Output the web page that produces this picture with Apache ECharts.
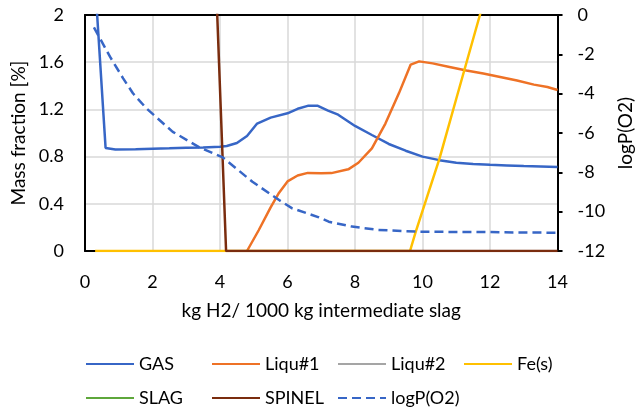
<!DOCTYPE html>
<html>
<head>
<meta charset="utf-8">
<script src="https://cdn.jsdelivr.net/npm/echarts@6/dist/echarts.min.js"></script>
<style>
html,body{margin:0;padding:0;background:#fff;}
#c{width:643px;height:407px;}
</style>
</head>
<body>
<div id="c"></div>
<script>
// ---- data ----
var xTicks = [0, 2, 4, 6, 8, 10, 12, 14];
var leftTicks = [0, 0.4, 0.8, 1.2, 1.6, 2];
var rightTicks = [-12, -10, -8, -6, -4, -2, 0];

var gasX = [0.3, 0.61, 0.9, 1.5, 2, 2.5, 3, 3.5, 4, 4.2, 4.5, 4.8, 5.1, 5.5, 6, 6.3, 6.6, 6.9, 7.2, 7.5, 8, 8.5, 9, 9.5, 10, 10.5, 11, 11.5, 12, 12.5, 13, 13.5, 14];
var gasY = [2.27, 0.873, 0.86, 0.862, 0.866, 0.87, 0.875, 0.878, 0.883, 0.89, 0.915, 0.975, 1.08, 1.13, 1.167, 1.205, 1.23, 1.23, 1.19, 1.155, 1.06, 0.983, 0.907, 0.85, 0.80, 0.77, 0.748, 0.738, 0.73, 0.725, 0.72, 0.716, 0.712];

var liq1X = [4.8, 5.15, 5.5, 5.75, 6.0, 6.3, 6.6, 7.0, 7.3, 7.8, 8.1, 8.5, 8.9, 9.3, 9.65, 9.9, 10.3, 10.8, 11.3, 11.8, 12.3, 12.8, 13.3, 13.7, 14];
var liq1Y = [0, 0.178, 0.37, 0.494, 0.59, 0.64, 0.662, 0.658, 0.66, 0.692, 0.748, 0.87, 1.08, 1.336, 1.58, 1.607, 1.59, 1.56, 1.53, 1.505, 1.475, 1.445, 1.41, 1.39, 1.364];

var liq2X = [];
var liq2Y = [];

var feX = [0.3, 9.63, 9.8, 10.5, 11, 11.7, 12];
var feY = [0, 0, 0.164, 0.78, 1.29, 2.0, 2.3];

var slagX = [];
var slagY = [];

var spinelX = [3.8, 4.18, 14];
var spinelY = [2.9, 0, 0];

var logpX = [0.265, 0.74, 1.13, 1.42, 1.82, 2.6, 3.39, 4.08, 4.96, 5.75, 6.14, 6.93, 7.22, 7.91, 8.69, 9.87, 11, 12, 13, 14];
var logpY = [-0.63, -2.12, -3.22, -3.98, -4.75, -5.94, -6.73, -7.24, -8.48, -9.41, -9.83, -10.29, -10.51, -10.76, -10.93, -11.02, -11.03, -11.04, -11.06, -11.07];

var seriesNames = ['GAS', 'Liqu#1', 'Liqu#2', 'Fe(s)', 'SLAG', 'SPINEL', 'logP(O2)'];
// ---- end data ----

function zip(xs, ys) { return xs.map(function (x, i) { return [x, ys[i]]; }); }

var FONT = 'Lato';
var TXT = '#000';

function lineSeries(name, xs, ys, color, yIdx, dashed) {
  return {
    name: name, type: 'line', yAxisIndex: yIdx || 0,
    data: zip(xs, ys), symbol: 'none', showSymbol: false,
    lineStyle: { color: color, width: 2.5, type: dashed ? [9, 5] : 'solid' },
    itemStyle: { color: color },
    clip: true, animation: false
  };
}

var chart = echarts.init(document.getElementById('c'), null, { renderer: 'canvas' });
chart.setOption({
  animation: false,
  backgroundColor: '#fff',
  grid: { left: 85, right: 83, top: 15, bottom: 156, containLabel: false },
  xAxis: [{
    type: 'value', min: xTicks[0], max: xTicks[xTicks.length - 1], interval: 2,
    name: 'kg H2/ 1000 kg intermediate slag', nameLocation: 'middle', nameGap: 50,
    nameTextStyle: { fontFamily: FONT, fontSize: 19, color: TXT },
    axisLine: { show: true, onZero: false, lineStyle: { color: '#000', width: 2 } },
    axisTick: { show: false },
    axisLabel: { fontFamily: FONT, fontSize: 18, color: TXT, margin: 22 },
    splitLine: { show: true, lineStyle: { color: '#d9d9d9', width: 1.5 } }
  }, {
    type: 'value', position: 'top', min: 0, max: 14,
    axisLine: { show: true, onZero: false, lineStyle: { color: '#000', width: 2 } },
    axisTick: { show: false }, axisLabel: { show: false }, splitLine: { show: false }
  }],
  yAxis: [{
    type: 'value', min: leftTicks[0], max: leftTicks[leftTicks.length - 1], interval: 0.4,
    name: 'Mass fraction [%]', nameLocation: 'middle', nameGap: 48, nameRotate: 90,
    nameTextStyle: { fontFamily: FONT, fontSize: 19, color: TXT },
    axisLine: { show: true, onZero: false, lineStyle: { color: '#000', width: 2 } },
    axisTick: { show: false },
    axisLabel: { fontFamily: FONT, fontSize: 18, color: TXT, margin: 21,
      formatter: function (v) { return String(Math.round(v * 10) / 10); } },
    splitLine: { show: true, lineStyle: { color: '#d9d9d9', width: 1.5 } }
  }, {
    type: 'value', position: 'right', min: rightTicks[0], max: rightTicks[rightTicks.length - 1], interval: 2,
    name: 'logP(O2)', nameLocation: 'middle', nameGap: 53, nameRotate: 90,
    nameTextStyle: { fontFamily: FONT, fontSize: 19, color: TXT },
    axisLine: { show: true, onZero: false, lineStyle: { color: '#000', width: 2 } },
    axisTick: { show: true, inside: false, length: 5, lineStyle: { color: '#000', width: 2 } },
    axisLabel: { fontFamily: FONT, fontSize: 18, color: TXT, margin: 20 },
    splitLine: { show: false }
  }],
  legend: {
    left: 80, top: 347, width: 520, orient: 'horizontal',
    itemWidth: 48, itemHeight: 14, itemGap: 10,
    itemStyle: { opacity: 0 },
    textStyle: { fontFamily: FONT, fontSize: 18, color: TXT, width: 62, height: 24, lineHeight: 24, overflow: 'none' },
    data: seriesNames
  },
  series: [
    lineSeries(seriesNames[0], gasX, gasY, '#3766c6', 0),
    lineSeries(seriesNames[1], liq1X, liq1Y, '#ee7226', 0),
    lineSeries(seriesNames[2], liq2X, liq2Y, '#a5a5a5', 0),
    lineSeries(seriesNames[3], feX, feY, '#ffc000', 0),
    lineSeries(seriesNames[4], slagX, slagY, '#5ea73b', 0),
    lineSeries(seriesNames[5], spinelX, spinelY, '#7a2c0e', 0),
    lineSeries(seriesNames[6], logpX, logpY, '#3766c6', 1, true)
  ]
});
</script>
</body>
</html>
